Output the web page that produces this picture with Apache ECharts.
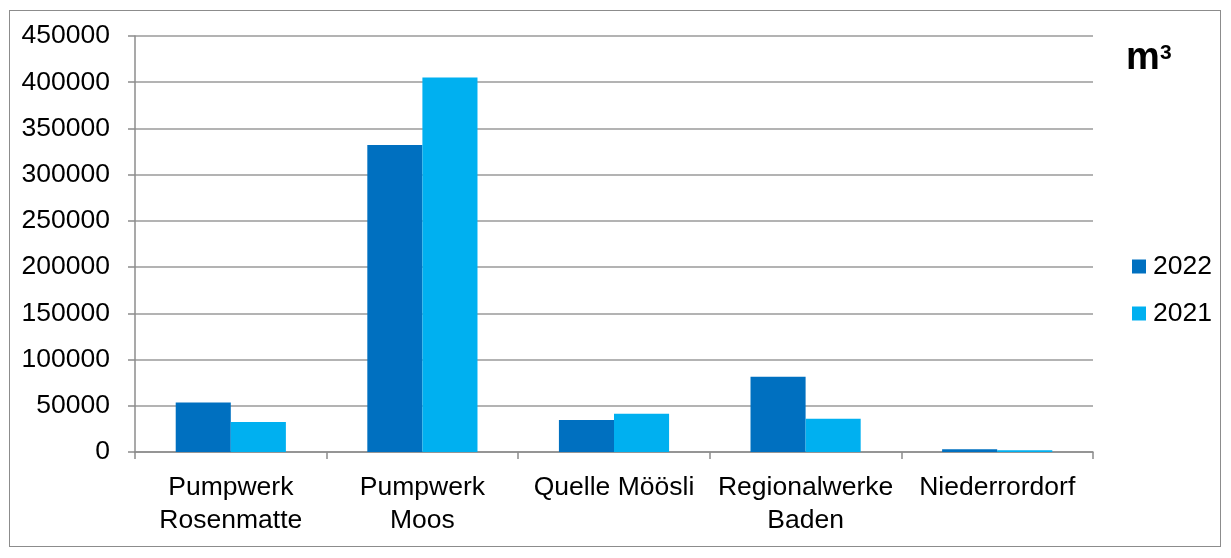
<!DOCTYPE html>
<html>
<head>
<meta charset="utf-8">
<script src="https://cdn.jsdelivr.net/npm/echarts@6/dist/echarts.min.js"></script>
<style>
  html, body { margin: 0; padding: 0; background: #ffffff; }
  #frame { position: absolute; left: 9px; top: 10px; width: 1212px; height: 537px; border: 1px solid #8c8c8c; box-sizing: border-box; }
  #chart { position: absolute; left: 0; top: 0; width: 1231px; height: 558px; }
</style>
</head>
<body>
<div id="frame"></div>
<div id="chart"></div>
<script>
// Wasserbezug nach Quelle, in m³
const categories = ['Pumpwerk\nRosenmatte', 'Pumpwerk\nMoos', 'Quelle Möösli', 'Regionalwerke\nBaden', 'Niederrordorf'];
const values2022 = [53500, 332000, 34500, 81500, 3000];
const values2021 = [32500, 405000, 41500, 36000, 2000];
const seriesNames = ['2022', '2021'];
const seriesColors = ['#0070C0', '#00B0F0'];

const FONT = '"Liberation Sans", Arial, sans-serif';
const FS = 26.5;
const chart = echarts.init(document.getElementById('chart'), null, { renderer: 'canvas' });

chart.setOption({
  animation: false,
  textStyle: { fontFamily: FONT },
  grid: { left: 135, right: 138, top: 36, bottom: 106, containLabel: false },
  legend: {
    orient: 'vertical',
    left: 1132,
    top: 253,
    padding: 0,
    itemWidth: 14,
    itemHeight: 14,
    itemGap: 20,
    icon: 'rect',
    textStyle: { fontSize: FS, color: '#000', fontFamily: FONT, padding: [0, 0, 0, 2] },
    data: seriesNames
  },
  graphic: [
    {
      type: 'text',
      left: 1126,
      top: 40,
      style: { text: 'm', font: 'bold 38px ' + FONT, fill: '#000' }
    },
    {
      type: 'text',
      left: 1160,
      top: 43,
      style: { text: '3', font: 'bold 21px ' + FONT, fill: '#000' }
    }
  ],
  xAxis: {
    type: 'category',
    data: categories,
    axisLine: { lineStyle: { color: '#8c8c8c', width: 1.5 } },
    axisTick: { show: true, length: 7, lineStyle: { color: '#8c8c8c', width: 1.5 } },
    axisLabel: { fontSize: FS, color: '#000', fontFamily: FONT, margin: 19, lineHeight: 33, interval: 0 }
  },
  yAxis: {
    type: 'value',
    min: 0,
    max: 450000,
    interval: 50000,
    axisLine: { show: true, lineStyle: { color: '#8c8c8c', width: 1.5 } },
    axisTick: { show: true, length: 7, lineStyle: { color: '#8c8c8c', width: 1.5 } },
    splitLine: { lineStyle: { color: '#9a9a9a', width: 1.5 } },
    axisLabel: { fontSize: FS, color: '#000', fontFamily: FONT, margin: 25, formatter: v => String(v) }
  },
  series: [
    {
      name: seriesNames[0], type: 'bar', data: values2022,
      itemStyle: { color: seriesColors[0] },
      barGap: '0%', barCategoryGap: '42.5%'
    },
    {
      name: seriesNames[1], type: 'bar', data: values2021,
      itemStyle: { color: seriesColors[1] },
      barGap: '0%', barCategoryGap: '42.5%'
    }
  ]
});
</script>
</body>
</html>
